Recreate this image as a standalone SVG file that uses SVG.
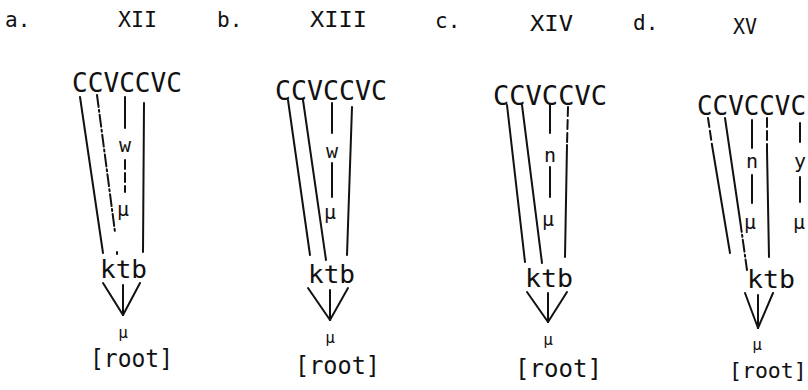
<svg xmlns="http://www.w3.org/2000/svg" width="808" height="390" viewBox="0 0 808 390">
<style>
text{font-family:"DejaVu Sans Mono","Liberation Mono",monospace;fill:#111}
.h{font-size:21px}
.cv{font-size:26px}
.kt{font-size:24px}
.rt{font-size:25px}
.s{font-size:20px;text-anchor:middle}
.m{font-size:16px;text-anchor:middle}
line{stroke:#111;stroke-width:2;stroke-linecap:round}
.d{stroke-dasharray:9 4}
.dd{stroke-dasharray:12 3 2 3}
</style>
<rect width="808" height="390" fill="#fff"/>
<g id="a">
<text class="h" x="5" y="27">a.</text>
<text class="h" x="118" y="27" textLength="39" lengthAdjust="spacingAndGlyphs">XII</text>
<text class="cv" x="72" y="92" textLength="110" lengthAdjust="spacingAndGlyphs">CCVCCVC</text>
<text class="s" x="125" y="152">w</text>
<text class="s" x="123" y="216">μ</text>
<text class="kt" x="100" y="278" textLength="47" lengthAdjust="spacingAndGlyphs">ktb</text>
<text class="m" x="123" y="338">μ</text>
<text class="rt" x="90" y="367" textLength="83" lengthAdjust="spacingAndGlyphs">[root]</text>
</g>
<g id="b">
<text class="h" x="217" y="27">b.</text>
<text class="h" x="310" y="27" textLength="57" lengthAdjust="spacingAndGlyphs">XIII</text>
<text class="cv" x="275" y="100" textLength="112" lengthAdjust="spacingAndGlyphs">CCVCCVC</text>
<text class="s" x="332" y="158">w</text>
<text class="s" x="330" y="219">μ</text>
<text class="kt" x="308" y="283" textLength="47" lengthAdjust="spacingAndGlyphs">ktb</text>
<text class="m" x="330" y="343">μ</text>
<text class="rt" x="295" y="374" textLength="85" lengthAdjust="spacingAndGlyphs">[root]</text>
</g>
<g id="c">
<text class="h" x="435" y="28">c.</text>
<text class="h" x="530" y="31" textLength="43" lengthAdjust="spacingAndGlyphs">XIV</text>
<text class="cv" x="493" y="105" textLength="114" lengthAdjust="spacingAndGlyphs">CCVCCVC</text>
<text class="s" x="550" y="162">n</text>
<text class="s" x="548" y="226">μ</text>
<text class="kt" x="525" y="287" textLength="48" lengthAdjust="spacingAndGlyphs">ktb</text>
<text class="m" x="548" y="345">μ</text>
<text class="rt" x="515" y="377" textLength="87" lengthAdjust="spacingAndGlyphs">[root]</text>
</g>
<g id="d">
<text class="h" x="633" y="30">d.</text>
<text class="h" x="733" y="34" textLength="24" lengthAdjust="spacingAndGlyphs">XV</text>
<text class="cv" x="697" y="115" textLength="109" lengthAdjust="spacingAndGlyphs">CCVCCVC</text>
<text class="s" x="752" y="168">n</text>
<text class="s" x="750" y="229">μ</text>
<text class="s" x="800" y="168">y</text>
<text class="s" x="799" y="229">μ</text>
<text class="kt" x="747" y="288" textLength="48" lengthAdjust="spacingAndGlyphs">ktb</text>
<text class="m" x="757" y="350">μ</text>
<text x="729" y="378" style="font-size:21.5px">[root]</text>
</g>
<g id="connectors">
<!-- a -->
<line x1="80" y1="97" x2="103" y2="253"/>
<line class="dd" x1="97" y1="95" x2="115" y2="232"/>
<line x1="117" y1="252" x2="117" y2="254"/>
<line x1="125" y1="97" x2="125" y2="128"/>
<line class="d" x1="125" y1="160" x2="125" y2="192"/>
<line x1="144" y1="103" x2="143" y2="252"/>
<line x1="103" y1="283" x2="123" y2="315"/>
<line x1="140" y1="283" x2="123" y2="315"/>
<line x1="123" y1="285" x2="123" y2="315"/>
<!-- b -->
<line x1="288" y1="100" x2="310" y2="255"/>
<line x1="303" y1="100" x2="326" y2="260"/>
<line x1="332" y1="103" x2="332" y2="133"/>
<line x1="332" y1="163" x2="332" y2="197"/>
<line x1="352" y1="107" x2="347" y2="255"/>
<line x1="308" y1="288" x2="330" y2="320"/>
<line x1="348" y1="288" x2="330" y2="320"/>
<line x1="330" y1="290" x2="330" y2="320"/>
<!-- c -->
<line x1="507" y1="105" x2="525" y2="262"/>
<line x1="522" y1="105" x2="542" y2="263"/>
<line x1="550" y1="105" x2="550" y2="133"/>
<line x1="550" y1="167" x2="550" y2="197"/>
<line class="d" x1="568" y1="107" x2="567" y2="145"/>
<line x1="567" y1="145" x2="565" y2="257"/>
<line x1="527" y1="292" x2="548" y2="322"/>
<line x1="567" y1="292" x2="548" y2="322"/>
<line x1="548" y1="293" x2="548" y2="322"/>
<!-- d -->
<line class="d" x1="708" y1="118" x2="712" y2="145"/>
<line x1="712" y1="145" x2="730" y2="253"/>
<line x1="725" y1="118" x2="740" y2="220"/>
<line class="dd" x1="740" y1="220" x2="747" y2="270"/>
<line x1="752" y1="120" x2="752" y2="148"/>
<line x1="752" y1="175" x2="752" y2="203"/>
<line class="d" x1="767" y1="118" x2="767" y2="150"/>
<line x1="767" y1="150" x2="769" y2="257"/>
<line x1="800" y1="123" x2="800" y2="142"/>
<line x1="800" y1="177" x2="800" y2="202"/>
<line x1="745" y1="293" x2="758" y2="328"/>
<line x1="773" y1="293" x2="758" y2="328"/>
<line x1="758" y1="295" x2="758" y2="328"/>
</g>
</svg>
